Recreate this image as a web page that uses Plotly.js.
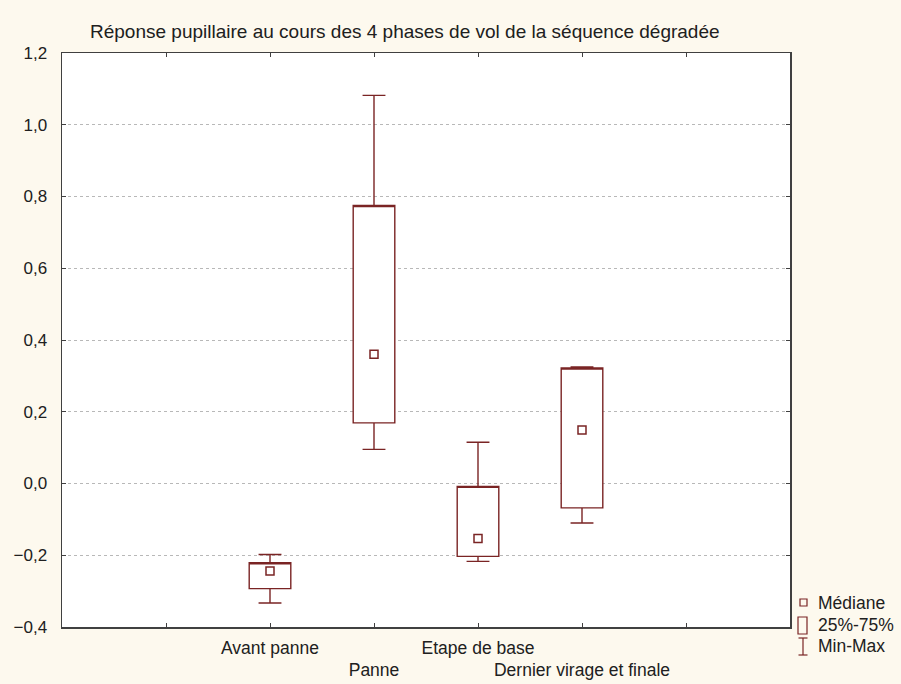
<!DOCTYPE html>
<html>
<head>
<meta charset="utf-8">
<script src="https://cdn.plot.ly/plotly-3.0.1.min.js"></script>
<style>html,body{margin:0;padding:0;background:#fdf9ee;}#chart{width:901px;height:684px;}</style>
</head>
<body>
<div id="chart"></div>
<script>
// ---- data ----
const categories = ['Avant panne', 'Panne', 'Etape de base', 'Dernier virage et finale'];
const minVals    = [-0.333, 0.095, -0.217, -0.110];
const q1Vals     = [-0.293, 0.169, -0.203, -0.068];
const medianVals = [-0.244, 0.360, -0.153, 0.149];
const q3Vals     = [-0.221, 0.775, -0.008, 0.322];
const maxVals    = [-0.198, 1.082, 0.115, 0.325];
const yTicks     = [-0.4, -0.2, 0.0, 0.2, 0.4, 0.6, 0.8, 1.0, 1.2];
const legendLabels = ['Médiane', '25%-75%', 'Min-Max'];
const titleText = 'Réponse pupillaire au cours des 4 phases de vol de la séquence dégradée';

// ---- layout helpers ----
const W = 901, H = 684;
const PL = 62, PR = 790, PT = 53, PB = 627;
const px = x => (x - PL) / (PR - PL);
const py = y => (PB - y) / (PB - PT);
const boxColor = '#7a2424';
const font = 'Liberation Sans, Arial, sans-serif';

const pos = categories.map((c, i) => i);
const tickvals = [-1].concat(pos, [categories.length]);
const ticktext = [''].concat(categories.map((c, i) => (i % 2 === 1 ? '<br>' + c : c)), ['']);

const boxTrace = {
  type: 'box',
  x: pos,
  q1: q1Vals,
  q3: q3Vals,
  median: q3Vals, // median drawn separately as a square marker
  lowerfence: minVals,
  upperfence: maxVals,
  width: 0.4,
  whiskerwidth: 0.55,
  boxpoints: false,
  fillcolor: '#ffffff',
  line: {color: boxColor, width: 1.4},
  hoverinfo: 'skip',
  showlegend: false
};
const medTrace = {
  type: 'scatter',
  mode: 'markers',
  x: pos,
  y: medianVals,
  marker: {symbol: 'square-open', size: 8, color: boxColor, line: {width: 1.5, color: boxColor}},
  showlegend: false
};

const shapes = [
  {type: 'rect', xref: 'paper', yref: 'paper', x0: px(800), x1: px(807), y0: py(606), y1: py(599), line: {color: boxColor, width: 1.2}},
  {type: 'rect', xref: 'paper', yref: 'paper', x0: px(798), x1: px(807), y0: py(634), y1: py(617), line: {color: boxColor, width: 1.2}},
  {type: 'line', xref: 'paper', yref: 'paper', x0: px(803), x1: px(803), y0: py(655), y1: py(638), line: {color: boxColor, width: 1.2}},
  {type: 'line', xref: 'paper', yref: 'paper', x0: px(798.5), x1: px(807.5), y0: py(638), y1: py(638), line: {color: boxColor, width: 1.2}},
  {type: 'line', xref: 'paper', yref: 'paper', x0: px(798.5), x1: px(807.5), y0: py(655), y1: py(655), line: {color: boxColor, width: 1.2}}
];
const legY = [603, 625, 646];
const annotations = legendLabels.map((t, i) => ({
  text: t, xref: 'paper', yref: 'paper', x: px(816), y: py(legY[i]),
  xanchor: 'left', yanchor: 'middle', showarrow: false,
  font: {family: font, size: 17.5, color: '#202020'}
}));

const layout = {
  width: W, height: H,
  paper_bgcolor: '#fdf9ee',
  plot_bgcolor: '#ffffff',
  separators: ', ',
  margin: {l: PL, r: W - PR, t: PT, b: H - PB, pad: 0},
  font: {family: font, size: 16, color: '#202020'},
  title: {text: titleText, x: 90 / W, xanchor: 'left', xref: 'container', y: 1 - 31 / H, yanchor: 'middle', yref: 'container',
          font: {family: font, size: 19, color: '#202020'}},
  xaxis: {
    range: [-2, categories.length + 1],
    tickmode: 'array', tickvals: tickvals, ticktext: ticktext,
    tickangle: 0,
    ticklabelstandoff: 4,
    ticks: 'inside', ticklen: 4, tickcolor: '#404040', tickwidth: 1,
    showline: true, linecolor: '#404040', linewidth: 1.5, mirror: 'ticks',
    showgrid: false, zeroline: false,
    tickfont: {family: font, size: 17.5, color: '#202020'}
  },
  yaxis: {
    range: [-0.4, 1.2],
    tickmode: 'array', tickvals: yTicks, tickformat: '.1f',
    ticks: 'inside', ticklen: 4, tickcolor: '#404040', tickwidth: 1,
    ticklabelstandoff: 10,
    showline: true, linecolor: '#404040', linewidth: 1.5, mirror: 'ticks',
    showgrid: true, gridcolor: '#b8b8b8', gridwidth: 1, griddash: 'dot',
    zeroline: false,
    tickfont: {family: font, size: 17, color: '#202020'}
  },
  shapes: shapes,
  annotations: annotations,
  showlegend: false
};

Plotly.newPlot('chart', [boxTrace, medTrace], layout, {displayModeBar: false, staticPlot: true});
</script>
</body>
</html>
